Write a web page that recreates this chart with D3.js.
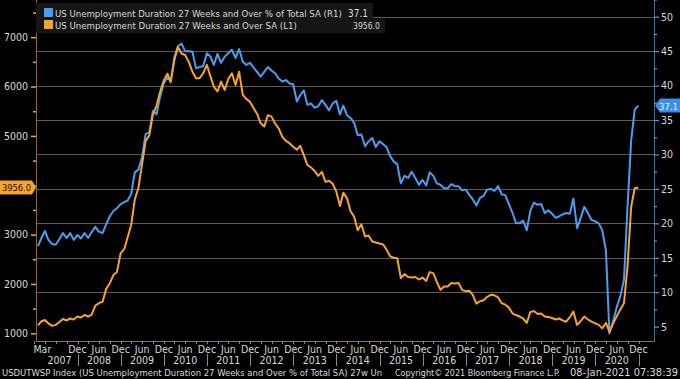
<!DOCTYPE html>
<html><head><meta charset="utf-8">
<script src="https://cdn.jsdelivr.net/npm/d3@7"></script>
<style>
html,body{margin:0;padding:0;background:#000;}
svg{display:block;}
</style></head>
<body>
<svg id="chart" width="680" height="379"></svg>
<script>
// ---------- DATA ----------
const startYear = 2007; // monthly series, Jan 2007 .. Dec 2020
const pctTotal = [ // US Unemployment Duration 27 Weeks and Over % of Total SA (R1)
  16.7, 17.8, 18.9, 17.6, 17.0, 16.9, 17.7, 18.6, 17.9, 18.6, 17.6, 18.3,
  17.8, 18.6, 17.9, 18.7, 19.5, 18.8, 18.6, 19.9, 21.0, 21.8, 22.2, 22.8,
  23.1, 23.3, 24.3, 27.4, 27.8, 29.6, 33.0, 33.2, 36.3, 35.8, 38.4, 40.3,
  41.2, 40.6, 44.1, 45.7, 46.1, 45.0, 45.0, 44.9, 42.5, 42.7, 42.8, 44.7,
  44.2, 43.0, 44.6, 43.3, 44.2, 44.7, 45.2, 44.0, 45.3, 43.5, 43.0, 43.3,
  42.6, 42.0, 41.3, 42.0, 42.7, 42.2, 41.8, 41.0, 40.6, 40.8, 40.3, 40.2,
  37.7, 38.6, 39.3, 37.2, 37.4, 36.8, 37.0, 37.9, 37.2, 36.4, 37.4, 37.8,
  35.8, 37.1, 35.7, 35.3, 34.6, 32.8, 32.9, 31.2, 31.9, 32.4, 31.1, 31.9,
  31.5, 31.1, 29.8, 29.0, 28.6, 25.8, 26.9, 26.6, 27.5, 26.6, 25.6, 26.3,
  25.5, 27.4, 26.9, 25.8, 25.6, 25.1, 25.1, 25.7, 25.4, 25.4, 24.8, 24.9,
  24.1, 23.5, 22.6, 23.7, 24.0, 24.9, 25.0, 24.7, 25.4, 24.2, 24.1, 22.8,
  21.5, 20.1, 20.0, 20.4, 19.0, 21.8, 23.0, 22.7, 22.8, 21.5, 21.9, 21.4,
  20.8, 21.0, 21.3, 21.5, 21.4, 23.6, 19.3, 20.8, 22.4, 21.5, 20.5, 20.3,
  20.0, 19.0, 16.1, 4.0, 5.8, 7.8, 9.4, 11.8, 22.4, 32.1, 36.5, 37.1
];
const level = [ // US Unemployment Duration 27 Weeks and Over SA (L1), thousands
  1160, 1240, 1270, 1200, 1150, 1170, 1230, 1290, 1260, 1300, 1280, 1340,
  1320, 1370, 1340, 1380, 1560, 1610, 1640, 1900, 2010, 2180, 2240, 2620,
  2710, 2940, 3200, 3710, 3950, 4420, 4900, 5010, 5430, 5610, 5890, 6120,
  6260, 6090, 6540, 6800, 6670, 6640, 6500, 6300, 6170, 6170, 6270, 6440,
  6200, 6000, 5900, 6100, 5930, 6150, 6270, 6030, 6300, 5830, 5750, 5690,
  5560, 5450, 5255, 5190, 5420, 5390, 5250, 5150, 4980, 4900, 4850, 4780,
  4720, 4800, 4610, 4410, 4360, 4290, 4190, 4270, 4070, 4090, 4030, 3870,
  3580, 3850, 3740, 3480, 3360, 3090, 3210, 2960, 2980, 2860, 2840, 2820,
  2800, 2700, 2560, 2530, 2520, 2120, 2200, 2140, 2130, 2140, 2090, 2130,
  2060, 2240, 2220, 2040, 1880, 1950, 1950, 2020, 2010, 2020, 1880, 1850,
  1860, 1780, 1600, 1650, 1670, 1740, 1780, 1770, 1730, 1610, 1580, 1520,
  1400, 1370, 1340, 1300, 1210, 1430, 1450, 1390, 1400, 1340, 1330, 1310,
  1280, 1300, 1260, 1235, 1330, 1440, 1170, 1250, 1340, 1280, 1235, 1200,
  1170, 1100, 1210, 1030, 1200, 1340, 1480, 1610, 2350, 3565, 3940, 3956
];
const leftTicks = [1000, 2000, 3000, 4000, 5000, 6000, 7000];
const leftMinor = [1500, 2500, 3500, 4500, 5500, 6500, 7500];
const rightTicks = [5, 10, 15, 20, 25, 30, 35, 40, 45, 50];
const rightMinor = [7.5, 12.5, 17.5, 22.5, 27.5, 32.5, 37.5, 42.5, 47.5, 52.5];
const gridValues = [10, 15, 20, 25, 30, 35, 40, 45, 50];
const years = [2007, 2008, 2009, 2010, 2011, 2012, 2013, 2014, 2015, 2016, 2017, 2018, 2019, 2020];
const legendLabels = ["US Unemployment Duration 27 Weeks and Over % of Total SA  (R1)",
                      "US Unemployment Duration 27 Weeks and Over SA (L1)"];
const lastBlue = "37.1", lastOrange = "3956.0";
const footerLeft = "USDUTWSP Index (US Unemployment Duration 27 Weeks and Over % of Total SA) 27w Un";
const footerMid = "Copyright\u00A9 2021 Bloomberg Finance L.P.";
const footerRight = "08-Jan-2021 07:38:39";

// ---------- LAYOUT ----------
const FONT = "'Liberation Sans Narrow','DejaVu Sans Condensed','Liberation Sans',sans-serif";
const BLUE = "#4a9ef0", ORANGE = "#f7a330", TXT = "#d9d9d9";
const L = 36, R = 654, B = 341;
const svg = d3.select("#chart").attr("font-family", FONT);
svg.append("rect").attr("width", 680).attr("height", 379).attr("fill", "#000");

function fit(sel, width, size) {
  sel.attr("font-size", size);
  const w = sel.node().getComputedTextLength();
  if (w > width) sel.attr("font-size", size * width / w);
  else sel.attr("textLength", width).attr("lengthAdjust", "spacingAndGlyphs");
  return sel;
}

const dates = level.map((_, i) => new Date(startYear, i + 1, 0));
const x = d3.scaleTime().domain([new Date(2008, 0, 1), new Date(2021, 0, 1)]).range([77.5, 638.5]);
const yL = d3.scaleLinear().domain([1000, 7000]).range([333.3, 37.2]);
const yR = d3.scaleLinear().domain([5, 50]).range([326.7, 16.7]);

// gridlines
svg.append("g").selectAll("line").data(gridValues).join("line")
  .attr("x1", L).attr("x2", R).attr("y1", d => Math.round(yR(d)) + 0.5).attr("y2", d => Math.round(yR(d)) + 0.5)
  .attr("stroke", "#5a5a5a").attr("stroke-width", 1);

// bottom axis line
svg.append("line").attr("x1", L).attr("x2", R).attr("y1", B + 0.5).attr("y2", B + 0.5)
  .attr("stroke", "#7a7a7a");

// quarterly ticks
const quarters = d3.timeMonth.every(3).range(new Date(2007, 0, 1), new Date(2021, 1, 1));
svg.append("g").selectAll("line").data(quarters).join("line")
  .attr("x1", d => Math.round(x(d)) + 0.5).attr("x2", d => Math.round(x(d)) + 0.5)
  .attr("y1", B).attr("y2", B + 3).attr("stroke", "#8a8a8a");

// month labels
const monthLabels = [{d: new Date(2007, 2, 1), t: "Mar"}];
years.forEach(yr => {
  if (yr > 2007) monthLabels.push({d: new Date(yr, 6, 1), t: "Jun"});
  monthLabels.push({d: new Date(yr + 1, 0, 1), t: "Dec"});
});
svg.append("g").selectAll("text").data(monthLabels).join("text")
  .attr("x", d => x(d.d) + (d.t === "Mar" ? 1 : 0)).attr("y", 352.5)
  .attr("text-anchor", "middle").attr("font-size", 10.5).attr("fill", TXT).text(d => d.t);
// year labels + separators
svg.append("g").selectAll("text").data(years).join("text")
  .attr("x", d => d === 2007 ? x(new Date(2007, 7, 1)) : x(new Date(d, 6, 1)))
  .attr("y", 363.5).attr("text-anchor", "middle").attr("font-size", 10.5).attr("fill", TXT).text(d => d);
svg.append("g").selectAll("line").data(years).join("line")
  .attr("x1", d => Math.round(x(new Date(d + 1, 0, 1))) + 0.5)
  .attr("x2", d => Math.round(x(new Date(d + 1, 0, 1))) + 0.5)
  .attr("y1", 354).attr("y2", 366).attr("stroke", "#8a8a8a");

// left axis
const gL = svg.append("g").attr("transform", `translate(${L},0)`);
gL.append("line").attr("x1", 0.5).attr("x2", 0.5).attr("y1", 0).attr("y2", B + 1).attr("stroke", "#9a6420");
gL.append("g").call(d3.axisLeft(yL).tickValues(leftTicks).tickSize(5).tickPadding(3)
  .tickFormat(d => d === 4000 ? "" : d3.format("d")(d)));
gL.append("g").call(d3.axisLeft(yL).tickValues(leftMinor).tickSize(3).tickFormat(""));
gL.selectAll(".domain").remove();
gL.selectAll(".tick line").attr("stroke", ORANGE).attr("stroke-width", 1.5);
gL.selectAll(".tick text").attr("fill", TXT).attr("font-size", 10.5).attr("font-family", FONT);

// right axis
const gR = svg.append("g").attr("transform", `translate(${R},0)`);
gR.append("line").attr("x1", 0.5).attr("x2", 0.5).attr("y1", 0).attr("y2", B + 1).attr("stroke", "#3a6ea8");
gR.append("g").call(d3.axisRight(yR).tickValues(rightTicks).tickSize(5).tickPadding(2));
gR.append("g").call(d3.axisRight(yR).tickValues(rightMinor).tickSize(3).tickFormat(""));
gR.selectAll(".domain").remove();
gR.selectAll(".tick line").attr("stroke", BLUE).attr("stroke-width", 1.2);
gR.selectAll(".tick text").attr("fill", TXT).attr("font-size", 10.5).attr("font-family", FONT);

// series lines
const lineB = d3.line().x((d, i) => x(dates[i])).y(d => yR(d));
const lineO = d3.line().x((d, i) => x(dates[i])).y(d => yL(d));
svg.append("path").datum(pctTotal).attr("d", lineB).attr("fill", "none")
  .attr("stroke", BLUE).attr("stroke-width", 2).attr("stroke-linejoin", "round");
svg.append("path").datum(level).attr("d", lineO).attr("fill", "none")
  .attr("stroke", ORANGE).attr("stroke-width", 2).attr("stroke-linejoin", "round");

// last value tags
const yo = yL(level[level.length - 1]);
svg.append("path").attr("d", `M0,${yo - 7}H32L36,${yo}L32,${yo + 7}H0Z`).attr("fill", ORANGE);
fit(svg.append("text").attr("x", 2).attr("y", yo + 4).attr("fill", "#111").text(lastOrange), 29, 10.5);
const yb = yR(pctTotal[pctTotal.length - 1]);
svg.append("path").attr("d", `M680,${yb - 7}H660L655,${yb}L660,${yb + 7}H680Z`).attr("fill", "#3d8ee6");
fit(svg.append("text").attr("x", 659).attr("y", yb + 4).attr("fill", "#e8f2ff").text(lastBlue), 19, 10.5);

// legend
const lg = svg.append("g");
lg.append("rect").attr("x", 36).attr("y", 3).attr("width", 337).attr("height", 16).attr("fill", "#161616");
lg.append("rect").attr("x", 36).attr("y", 19).attr("width", 349).attr("height", 14).attr("fill", "#161616");
lg.append("rect").attr("x", 44).attr("y", 8).attr("width", 9).attr("height", 9).attr("fill", BLUE);
lg.append("rect").attr("x", 44).attr("y", 20).attr("width", 9).attr("height", 9).attr("fill", ORANGE);
fit(lg.append("text").attr("x", 55).attr("y", 16.5).attr("fill", TXT).text(legendLabels[0]), 287, 10);
fit(lg.append("text").attr("x", 348).attr("y", 16.5).attr("fill", TXT).text(lastBlue), 20, 10);
fit(lg.append("text").attr("x", 55).attr("y", 28.5).attr("fill", TXT).text(legendLabels[1]), 242, 10);
fit(lg.append("text").attr("x", 353).attr("y", 28.5).attr("fill", TXT).text(lastOrange), 27, 10);

// footer
const ft = svg.append("g").attr("fill", TXT);
fit(ft.append("text").attr("x", 2).attr("y", 376).text(footerLeft), 381, 10.5);
fit(ft.append("text").attr("x", 395).attr("y", 376).text(footerMid), 165, 10.5);
fit(ft.append("text").attr("x", 570).attr("y", 376).text(footerRight), 108, 10.5);
</script>
</body></html>
